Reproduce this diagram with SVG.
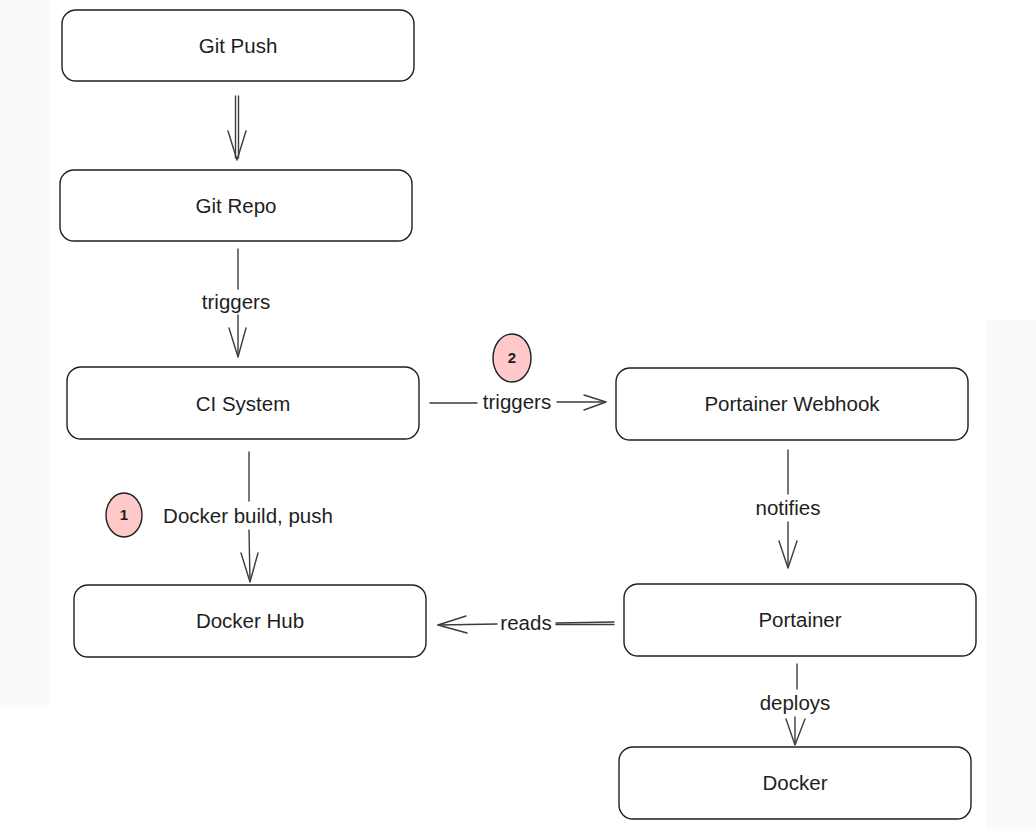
<svg xmlns="http://www.w3.org/2000/svg" width="1036" height="829" viewBox="0 0 1036 829">
<defs>
<style>
.node rect{fill:#ffffff;stroke:#1e1e1e;stroke-width:1.4}
.lbl{font-family:"Liberation Sans","DejaVu Sans",sans-serif;font-size:20.5px;fill:#1e1e1e;text-anchor:middle;dominant-baseline:central}
.conn line,.conn path{stroke:#3c3c3c;stroke-width:1.4;fill:none;stroke-linecap:round;stroke-linejoin:round}
.badge ellipse{fill:#ffc9c9;stroke:#1e1e1e;stroke-width:1.4}
.btxt{font-family:"Liberation Sans","DejaVu Sans",sans-serif;font-size:15px;font-weight:bold;fill:#1e1e1e;text-anchor:middle;dominant-baseline:central}
</style>
</defs>
<rect width="1036" height="829" fill="#ffffff"/>
<rect x="0" y="0" width="50" height="705" fill="#fafafa"/>
<rect x="986" y="320" width="50" height="509" fill="#fafafa"/>

<g class="conn" id="connectors">
  <!-- Git Push -> Git Repo (double line) -->
  <line x1="235.5" y1="96" x2="235.5" y2="158"/>
  <line x1="238.5" y1="96" x2="238.5" y2="158"/>
  <path d="M228 131 L237 160 L246 131"/>
  <!-- Git Repo -> CI System -->
  <line x1="238" y1="249" x2="238" y2="289"/>
  <line x1="238" y1="315" x2="238" y2="356"/>
  <path d="M229 328 L238 357 L246 328"/>
  <text class="lbl" x="236" y="301">triggers</text>
  <!-- CI System -> Portainer Webhook -->
  <line x1="430" y1="403" x2="477" y2="403"/>
  <line x1="557" y1="402" x2="605" y2="402"/>
  <path d="M584 395 L606 402 L584 410"/>
  <text class="lbl" x="517" y="401">triggers</text>
  <!-- CI System -> Docker Hub -->
  <line x1="249" y1="452" x2="249" y2="501"/>
  <line x1="249" y1="530" x2="250" y2="581"/>
  <path d="M241 553 L250 582 L258 553"/>
  <text class="lbl" x="248" y="515">Docker build, push</text>
  <!-- Portainer Webhook -> Portainer -->
  <line x1="788" y1="450" x2="788" y2="494"/>
  <line x1="788" y1="522" x2="788" y2="567"/>
  <path d="M779 541 L788 568 L797 541"/>
  <text class="lbl" x="788" y="507">notifies</text>
  <!-- Portainer -> Docker Hub -->
  <line x1="614" y1="622" x2="556" y2="623"/>
  <line x1="614" y1="624.5" x2="556" y2="624.5"/>
  <line x1="497" y1="624" x2="438" y2="625"/>
  <path d="M466 616 L438 625 L467 633"/>
  <text class="lbl" x="526" y="622">reads</text>
  <!-- Portainer -> Docker -->
  <line x1="797" y1="664" x2="797" y2="689"/>
  <line x1="795" y1="717" x2="795" y2="744"/>
  <path d="M786 719 L795 745 L805 719"/>
  <text class="lbl" x="795" y="702">deploys</text>
</g>

<g class="node" id="git-push">
  <rect x="62" y="10" width="352" height="71" rx="14"/>
  <text class="lbl" x="238" y="45">Git Push</text>
</g>
<g class="node" id="git-repo">
  <rect x="60" y="170" width="352" height="71" rx="14"/>
  <text class="lbl" x="236" y="205">Git Repo</text>
</g>
<g class="node" id="ci-system">
  <rect x="67" y="367" width="352" height="72" rx="14"/>
  <text class="lbl" x="243" y="403">CI System</text>
</g>
<g class="node" id="portainer-webhook">
  <rect x="616" y="368" width="352" height="72" rx="14"/>
  <text class="lbl" x="792" y="403">Portainer Webhook</text>
</g>
<g class="node" id="docker-hub">
  <rect x="74" y="585" width="352" height="72" rx="14"/>
  <text class="lbl" x="250" y="620">Docker Hub</text>
</g>
<g class="node" id="portainer">
  <rect x="624" y="584" width="352" height="72" rx="14"/>
  <text class="lbl" x="800" y="619">Portainer</text>
</g>
<g class="node" id="docker">
  <rect x="619" y="747" width="352" height="72" rx="14"/>
  <text class="lbl" x="795" y="782">Docker</text>
</g>

<g class="badge" id="badge-1">
  <ellipse cx="124" cy="515" rx="18" ry="22"/>
  <text class="btxt" x="124" y="514">1</text>
</g>
<g class="badge" id="badge-2">
  <ellipse cx="512" cy="358" rx="19" ry="24"/>
  <text class="btxt" x="512" y="357">2</text>
</g>
</svg>
